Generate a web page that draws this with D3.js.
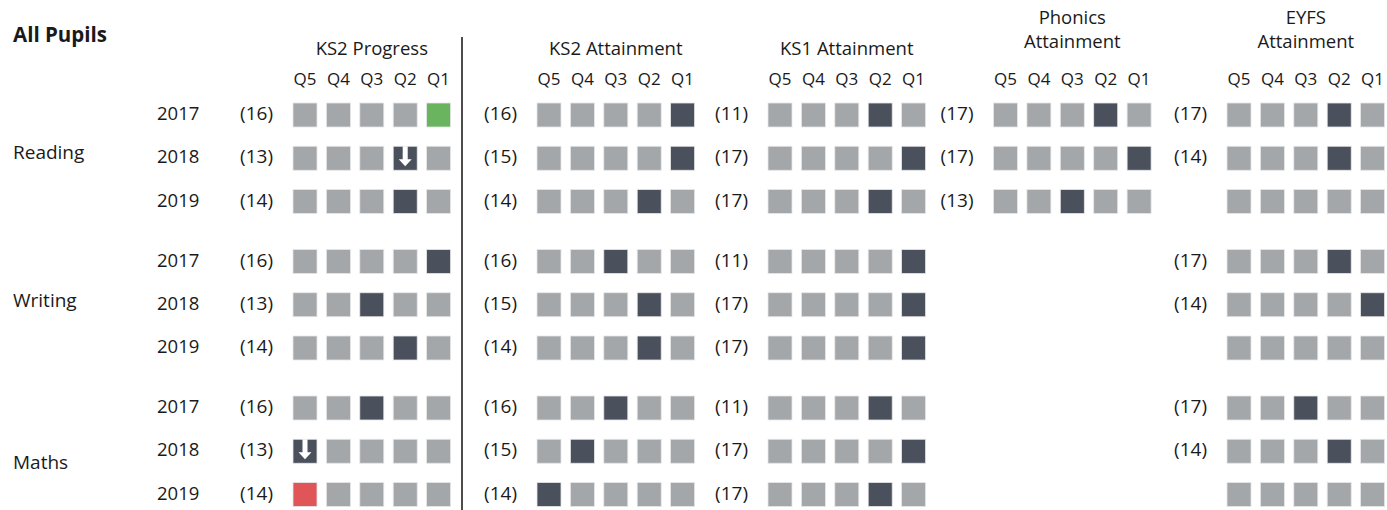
<!DOCTYPE html>
<html>
<head>
<meta charset="utf-8">
<script src="https://cdn.jsdelivr.net/npm/d3@7"></script>
<style>
  html, body { margin: 0; padding: 0; background: #fff; }
  svg { display: block; }
  text { font-family: "Open Sans", "Noto Sans", sans-serif; fill: #1a1a1a; }
</style>
</head>
<body>
<svg id="chart" width="1387" height="510"></svg>
<script>
// ---------------- DATA ----------------
const title = "All Pupils";
const panels = ["KS2 Progress", "KS2 Attainment", "KS1 Attainment", "Phonics Attainment", "EYFS Attainment"];
const panelHeaderLines = [["KS2 Progress"], ["KS2 Attainment"], ["KS1 Attainment"], ["Phonics", "Attainment"], ["EYFS", "Attainment"]];
const subjects = ["Reading", "Writing", "Maths"];
const years = ["2017", "2018", "2019"];
const quintiles = ["Q5", "Q4", "Q3", "Q2", "Q1"];

// counts per panel: [subject][year]; null = no label
const ks2ProgressCounts   = [[16, 13, 14], [16, 13, 14], [16, 13, 14]];
const ks2AttainmentCounts = [[16, 15, 14], [16, 15, 14], [16, 15, 14]];
const ks1AttainmentCounts = [[11, 17, 17], [11, 17, 17], [11, 17, 17]];
const phonicsCounts       = [[17, 17, 13], [null, null, null], [null, null, null]];
const eyfsCounts          = [[17, 14, null], [17, 14, null], [17, 14, null]];

// highlighted quintile per panel: [subject][year]; null = none
const ks2ProgressQuintile   = [["Q1", "Q2", "Q2"], ["Q1", "Q3", "Q2"], ["Q3", "Q5", "Q5"]];
const ks2AttainmentQuintile = [["Q1", "Q1", "Q2"], ["Q3", "Q2", "Q2"], ["Q3", "Q4", "Q5"]];
const ks1AttainmentQuintile = [["Q2", "Q1", "Q2"], ["Q1", "Q1", "Q1"], ["Q2", "Q1", "Q2"]];
const phonicsQuintile       = [["Q2", "Q1", "Q3"], [null, null, null], [null, null, null]];
const eyfsQuintile          = [["Q2", "Q2", null], ["Q2", "Q1", null], ["Q3", "Q2", null]];

// which rows have squares at all
const phonicsHasRow = [[true, true, true], [false, false, false], [false, false, false]];

// status of the highlighted square (KS2 Progress only): "above", "below", "down"
const ks2ProgressStatus = [["above", "down", null], [null, null, null], [null, "down", "below"]];

// ---------------- LAYOUT ----------------
const panelQ5Center = [305, 549, 780, 1005.5, 1239];
const pitch = 33.4, sq = 24;
const colors = { base: "#A4A7A9", hi: "#4A505C", above: "#6AB35F", below: "#E05558" };

const svg = d3.select("#chart");

const groupY = d3.scalePoint().domain(subjects).range([115, 408]);
const yearY = d3.scalePoint().domain(years).range([0, 86.5]);
const rowY = (s, y) => groupY(s) + yearY(y);

const panelData = panels.map((p, i) => ({
  name: p,
  lines: panelHeaderLines[i],
  counts: [ks2ProgressCounts, ks2AttainmentCounts, ks1AttainmentCounts, phonicsCounts, eyfsCounts][i],
  quint: [ks2ProgressQuintile, ks2AttainmentQuintile, ks1AttainmentQuintile, phonicsQuintile, eyfsQuintile][i],
  hasRow: i === 3 ? phonicsHasRow : null,
  status: i === 0 ? ks2ProgressStatus : null,
  x: d3.scalePoint().domain(quintiles).range([panelQ5Center[i], panelQ5Center[i] + 4 * pitch])
}));

// Title
svg.append("text").attr("x", 13).attr("y", 42).style("font-size", "20.5px").style("font-weight", "700")
  .text(title);

// Subject labels
const subjLabelY = { Reading: 159, Writing: 307, Maths: 469 };
svg.selectAll(".subj").data(subjects).join("text")
  .attr("x", 13).attr("y", d => subjLabelY[d]).style("font-size", "19px").text(d => d);

// Year labels
subjects.forEach(s => {
  svg.selectAll(null).data(years).join("text")
    .attr("x", 157).attr("y", y => rowY(s, y) + 5).style("font-size", "18.5px").text(y => y);
});

// Divider
svg.append("line").attr("x1", 462).attr("x2", 462).attr("y1", 37).attr("y2", 510)
  .attr("stroke", "#111").attr("stroke-width", 1.5);

panelData.forEach(P => {
  const cx = P.x("Q3");
  const g = svg.append("g");
  // header
  const headerBase = P.lines.length === 1 ? [55] : [24, 48];
  g.selectAll(".hdr").data(P.lines).join("text")
    .attr("x", cx).attr("y", (d, i) => headerBase[i]).attr("text-anchor", "middle")
    .style("font-size", "18.5px").text(d => d);
  // quintile labels
  g.selectAll(".ql").data(quintiles).join("text")
    .attr("x", d => P.x(d)).attr("y", 85).attr("text-anchor", "middle")
    .style("font-size", "17px").text(d => d);

  subjects.forEach((s, si) => {
    years.forEach((yr, yi) => {
      if (P.hasRow && !P.hasRow[si][yi]) return;
      const cy = rowY(s, yr);
      const c = P.counts[si][yi];
      if (c != null) {
        g.append("text").attr("x", P.x("Q5") - sq / 2 - 20).attr("y", cy + 5)
          .attr("text-anchor", "end").style("font-size", "19px").text(`(${c})`);
      }
      const hq = P.quint[si][yi];
      const st = P.status ? P.status[si][yi] : null;
      g.selectAll(null).data(quintiles).join("rect")
        .attr("x", q => P.x(q) - sq / 2).attr("y", cy - sq / 2)
        .attr("width", sq).attr("height", sq)
        .attr("fill", q => q !== hq ? colors.base : (st === "above" ? colors.above : st === "below" ? colors.below : colors.hi))
        .attr("stroke", "#e6e7e8").attr("stroke-width", 0.8);
      if (st === "down" && hq) {
        const ax = P.x(hq);
        const path = d3.path();
        path.moveTo(ax - 2.5, cy - 12);
        path.lineTo(ax + 2.5, cy - 12);
        path.lineTo(ax + 2.5, cy + 1);
        path.lineTo(ax + 6.5, cy + 1);
        path.lineTo(ax, cy + 8);
        path.lineTo(ax - 6.5, cy + 1);
        path.lineTo(ax - 2.5, cy + 1);
        path.closePath();
        g.append("path").attr("d", path.toString()).attr("fill", "#fff");
      }
    });
  });
});
</script>
</body>
</html>
